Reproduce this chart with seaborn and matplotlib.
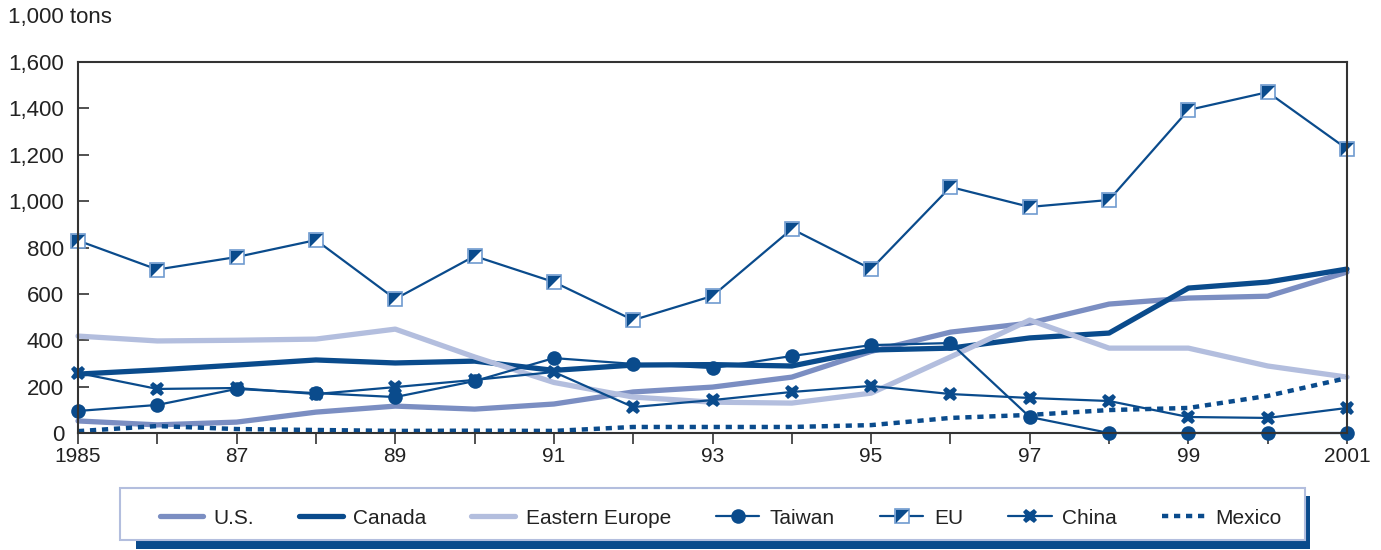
import matplotlib
matplotlib.use("Agg")
import matplotlib.pyplot as plt
from matplotlib.patches import Rectangle
from matplotlib.lines import Line2D
from matplotlib.legend_handler import HandlerTuple
import seaborn as sns
import pandas as pd

years = list(range(1985, 2002))
us = [52, 35, 47, 90, 116, 103, 125, 177, 198, 241, 352, 435, 474, 556, 582, 590, 694]
canada = [254, 272, 293, 315, 302, 310, 270, 293, 295, 289, 358, 366, 410, 431, 625, 651, 707]
eastern_europe = [418, 397, 400, 405, 448, 328, 218, 155, 133, 129, 172, 328, 487, 366, 366, 289, 241]
taiwan = [95, 121, 190, 172, 155, 224, 323, 298, 280, 332, 379, 388, 69, 0, 0, 0, 0]
eu = [830, 705, 759, 832, 578, 763, 651, 487, 591, 880, 707, 1061, 975, 1005, 1393, 1470, 1225]
china = [259, 190, 194, 168, 198, 229, 263, 112, 142, 177, 203, 168, 151, 138, 69, 65, 108]
mexico = [8, 30, 17, 13, 9, 10, 9, 26, 26, 26, 34, 65, 78, 99, 108, 160, 237]
xtick_labels = ["1985", "", "87", "", "89", "", "91", "", "93", "", "95", "", "97", "", "99", "", "2001"]

df = pd.DataFrame({"year": years, "U.S.": us, "Canada": canada, "Eastern Europe": eastern_europe,
                   "Taiwan": taiwan, "EU": eu, "China": china, "Mexico": mexico})

sns.set_style("white")
plt.rcParams["font.family"] = ["Liberation Sans", "DejaVu Sans"]

DARK = "#0a4b8c"
MED = "#7b8ec2"
LIGHT = "#b3bede"
EDGE = "#6f9bd0"
DASH = (0, (1.4, 1.3))

fig = plt.figure(figsize=(13.81, 5.5), dpi=100)
ax = fig.add_axes([78 / 1381, 1 - 433 / 550, (1347 - 78) / 1381, (433 - 62) / 550])

sns.lineplot(data=df, x="year", y="U.S.", ax=ax, color=MED, linewidth=3.8, clip_on=False)
sns.lineplot(data=df, x="year", y="Canada", ax=ax, color=DARK, linewidth=3.8, clip_on=False)
sns.lineplot(data=df, x="year", y="Eastern Europe", ax=ax, color=LIGHT, linewidth=3.8, clip_on=False)
sns.lineplot(data=df, x="year", y="Mexico", ax=ax, color=DARK, linewidth=3.2, linestyle=DASH, clip_on=False)
sns.lineplot(data=df, x="year", y="Taiwan", ax=ax, color=DARK, linewidth=1.6, marker="o",
             markersize=10.5, markeredgewidth=0, markerfacecolor=DARK, clip_on=False)
sns.lineplot(data=df, x="year", y="China", ax=ax, color=DARK, linewidth=1.6, marker="X",
             markersize=10.5, markeredgewidth=0, markerfacecolor=DARK, clip_on=False)
sns.lineplot(data=df, x="year", y="EU", ax=ax, color=DARK, linewidth=1.6, marker="s",
             markersize=10.5, markeredgewidth=1.2, markerfacecolor="white", markeredgecolor=EDGE, clip_on=False)
tri = [(-1, -1), (-1, 1), (1, 1), (-1, -1)]
sns.lineplot(data=df, x="year", y="EU", ax=ax, color=DARK, linewidth=0, marker=tri,
             markersize=9.5, markeredgewidth=0, markerfacecolor=DARK, clip_on=False)

ax.set_xlim(1985, 2001)
ax.set_ylim(0, 1600)
ax.set_xticks(years)
ax.set_xticklabels(xtick_labels)
ax.set_yticks(range(0, 1601, 200))
ax.set_yticklabels([f"{v:,}" for v in range(0, 1601, 200)])
ax.set_xlabel("")
ax.set_ylabel("")
ax.tick_params(axis="x", direction="out", length=8, width=1.2, color="#333333", labelsize=15, pad=2,
               bottom=True, labelcolor="#222222")
ax.tick_params(axis="y", direction="in", length=8, width=1.2, color="#333333", labelsize=16, pad=10,
               left=True, labelcolor="#222222")
for s in ax.spines.values():
    s.set_visible(True)
    s.set_color("#333333")
    s.set_linewidth(1.5)

fig.text(8 / 1381, 1 - 17 / 550, "1,000 tons", fontsize=16, va="center", ha="left", color="#222222")

# legend box with shadow
fig.patches.append(Rectangle((136 / 1381, 1 - 549 / 550), (1310 - 136) / 1381, (549 - 496) / 550,
                             transform=fig.transFigure, facecolor=DARK, edgecolor="none", zorder=1))
fig.patches.append(Rectangle((120 / 1381, 1 - 540 / 550), (1305 - 120) / 1381, (540 - 488) / 550,
                             transform=fig.transFigure, facecolor="white", edgecolor=LIGHT, linewidth=1.5, zorder=2))

h_us = Line2D([], [], color=MED, linewidth=3.8)
h_ca = Line2D([], [], color=DARK, linewidth=3.8)
h_ee = Line2D([], [], color=LIGHT, linewidth=3.8)
h_tw = Line2D([], [], color=DARK, linewidth=1.6, marker="o", markersize=10.5, markeredgewidth=0)
h_eu1 = Line2D([], [], color=DARK, linewidth=1.6, marker="s", markersize=10.5, markerfacecolor="white",
               markeredgecolor=EDGE, markeredgewidth=1.2)
h_eu2 = Line2D([], [], color=DARK, linewidth=0, marker=tri, markersize=9.5, markeredgewidth=0)
h_cn = Line2D([], [], color=DARK, linewidth=1.6, marker="X", markersize=10.5, markeredgewidth=0)
h_mx = Line2D([], [], color=DARK, linewidth=3.2, linestyle=DASH)

leg = fig.legend([h_us, h_ca, h_ee, h_tw, (h_eu1, h_eu2), h_cn, h_mx],
                 ["U.S.", "Canada", "Eastern Europe", "Taiwan", "EU", "China", "Mexico"],
                 loc="center", bbox_to_anchor=((120 + 1305) / 2 / 1381 + 0.006, 1 - 518 / 550),
                 ncol=7, frameon=False, fontsize=15, handlelength=2.1, handletextpad=0.5,
                 columnspacing=2.15, handler_map={tuple: HandlerTuple(ndivide=1)},
                 labelcolor="#222222")
leg.set_zorder(5)

fig.savefig("out.png", dpi=100)
